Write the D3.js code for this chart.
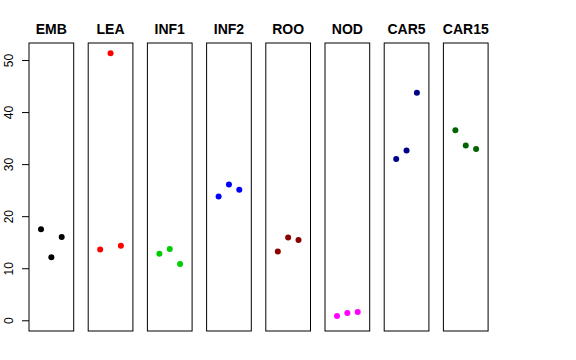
<!DOCTYPE html>
<html><head><meta charset="utf-8">
<script src="https://cdn.jsdelivr.net/npm/d3@7"></script>
<style>body{margin:0;background:#fff;} svg{display:block;font-family:"Liberation Sans",Arial,sans-serif;}</style>
</head><body>
<svg id="c" width="576" height="360"></svg>
<script>
const categories = ["EMB","LEA","INF1","INF2","ROO","NOD","CAR5","CAR15"];
const colors = ["#000000","#FF0000","#00CD00","#0000FF","#8B0000","#FF00FF","#00008B","#006400"];
const replicates = [1,2,3];
const values = [
  [17.5, 12.1, 16.0],
  [13.6, 51.3, 14.3],
  [12.8, 13.7, 10.8],
  [23.8, 26.1, 25.1],
  [13.2, 15.9, 15.4],
  [0.8, 1.4, 1.6],
  [31.0, 32.6, 43.7],
  [36.5, 33.6, 32.9]
];
const yTicks = [0,10,20,30,40,50];

(function(){
const svg = d3.select("#c");
const plotTop = 43, plotBottom = 331;
const panelW = 44.7;
const panelX = d3.scaleLinear().domain([0, 7]).range([29, 443.4]);
const y = d3.scaleLinear().domain([-2.06, 53.27]).range([plotBottom, plotTop]);
const x = d3.scaleLinear().domain([-0.16, 4.16]).range([0, panelW]);

categories.forEach((cat, i) => {
  const g = svg.append("g").attr("transform", `translate(${panelX(i)},0)`);
  g.append("rect").attr("x", 0).attr("y", plotTop).attr("width", panelW).attr("height", plotBottom - plotTop)
    .attr("fill", "none").attr("stroke", "#000").attr("stroke-width", 1);
  g.append("text").attr("x", panelW / 2).attr("y", 34).attr("text-anchor", "middle")
    .attr("font-weight", "bold").attr("font-size", 14).attr("fill", "#000").text(cat);
  g.selectAll("circle").data(values[i]).join("circle")
    .attr("cx", (d, j) => x(replicates[j])).attr("cy", d => y(d)).attr("r", 3)
    .attr("fill", colors[i]);
});

const axis = d3.axisLeft(y).tickValues(yTicks).tickSize(7).tickFormat(d => d);
const ag = svg.append("g").attr("transform", `translate(${panelX(0)},0)`).call(axis);
ag.select(".domain").remove();
ag.selectAll(".tick line").attr("stroke", "#000");
ag.selectAll(".tick text")
  .attr("x", null).attr("dy", null)
  .attr("transform", "translate(-16,0) rotate(-90)")
  .attr("text-anchor", "middle")
  .attr("font-size", 12).attr("fill", "#000")
  .attr("font-family", "Liberation Sans, Arial, sans-serif");
})();
</script>
</body></html>
